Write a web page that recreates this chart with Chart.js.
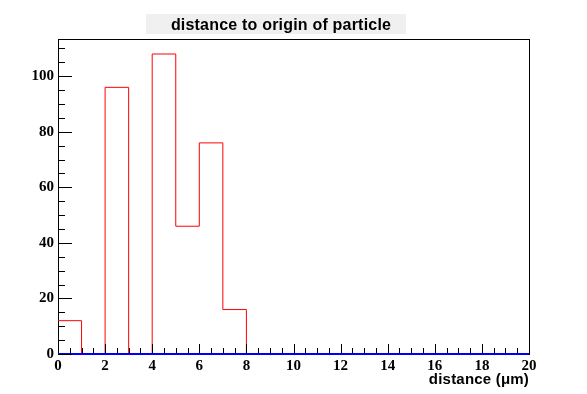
<!DOCTYPE html>
<html>
<head>
<meta charset="utf-8">
<script src="https://cdn.jsdelivr.net/npm/chart.js@4/dist/chart.umd.min.js"></script>
<style>
  body { margin: 0; background: #fff; }
  #wrap { width: 587px; height: 394px; }
</style>
</head>
<body>
<div id="wrap"><canvas id="hist" width="587" height="394"></canvas></div>
<script>
// histogram bins (1 um wide), edges 0..20
const binEdges = [0, 1, 2, 3, 4, 5, 6, 7, 8, 9, 10, 11, 12, 13, 14, 15, 16, 17, 18, 19, 20]
const counts = [12, 0, 96, 0, 108, 46, 76, 16, 0, 0, 0, 0, 0, 0, 0, 0, 0, 0, 0, 0]
const baseline = [0, 0, 0, 0, 0, 0, 0, 0, 0, 0, 0, 0, 0, 0, 0, 0, 0, 0, 0, 0]
const xTickLabels = ['0', '2', '4', '6', '8', '10', '12', '14', '16', '18', '20']
const yTickLabels = ['0', '20', '40', '60', '80', '100']
const titleText = 'distance to origin of particle'
const xTitle = 'distance (\u03bcm)'

// step points: left edge of each bin, plus the last right edge
function stepPoints(vals) {
    let pts = vals.map((v, i) => ({x: binEdges[i], y: v}))
    pts.push({x: binEdges[binEdges.length - 1], y: vals[vals.length - 1]})
    return pts
}

const tickFont = {family: 'Liberation Serif', weight: 'bold', size: 15}

// frame, inward ticks, title box and axis title in ROOT style
const rootFrame = {
    id: 'rootFrame',
    beforeDatasetsDraw(chart) {
        const c = chart.ctx
        const {left, right, top, bottom} = chart.chartArea
        c.save()
        // title box
        c.fillStyle = '#f0f0f0'
        c.fillRect(146, 14, 260, 20)
        c.fillStyle = '#000'
        c.font = 'bold 16px "Liberation Sans"'
        c.letterSpacing = '0.2px'
        c.textAlign = 'center'
        c.textBaseline = 'alphabetic'
        c.fillText(titleText, 281, 30)
        // frame
        c.letterSpacing = '0px'
        c.strokeStyle = '#000'
        c.lineWidth = 1
        c.strokeRect(left + 0.5, top + 0.5, right - left, bottom - top)
        c.restore()
    },
    afterDatasetsDraw(chart) {
        const c = chart.ctx
        const {left, right, top, bottom} = chart.chartArea
        const xs = chart.scales.x, ys = chart.scales.y
        c.save()
        c.strokeStyle = '#000'
        c.lineWidth = 1
        c.beginPath()
        // x ticks: minor every 0.5, major every 2
        for (let v = xs.min; v <= xs.max + 1e-9; v += 0.5) {
            const px = Math.round(xs.getPixelForValue(v)) + 0.5
            const len = Math.abs(v % 2) < 1e-9 ? 9 : 5
            c.moveTo(px, bottom - 1)
            c.lineTo(px, bottom - 1 - len)
        }
        // y ticks: minor every 5, major every 20
        for (let v = 0; v <= ys.max + 1e-9; v += 5) {
            const py = Math.round(ys.getPixelForValue(v)) + 0.5
            const len = v % 20 === 0 ? 14 : 7
            c.moveTo(left, py)
            c.lineTo(left + len, py)
        }
        c.stroke()
        // axis title
        c.fillStyle = '#000'
        c.font = 'bold 15px "Liberation Sans"'
        c.letterSpacing = '0.2px'
        c.textAlign = 'right'
        c.textBaseline = 'alphabetic'
        c.fillText(xTitle, right, 384)
        c.restore()
    }
}

const ctx = document.getElementById('hist').getContext('2d')
const chart = new Chart(ctx, {
    type: 'line',
    data: {
        datasets: [
            {
                label: 'baseline',
                data: stepPoints(baseline),
                stepped: 'before',
                borderColor: '#0000ff',
                borderWidth: 2,
                pointRadius: 0,
                fill: false,
                clip: 4
            },
            {
                label: 'distance',
                data: stepPoints(counts),
                stepped: 'before',
                borderColor: '#ff0000',
                borderWidth: 1,
                pointRadius: 0,
                fill: false,
                clip: 4
            }
        ]
    },
    options: {
        responsive: false,
        animation: false,
        events: [],
        layout: {padding: {top: 39, right: 58, left: 0, bottom: 0}},
        scales: {
            x: {
                type: 'linear',
                min: 0,
                max: 20,
                grid: {display: false, drawTicks: false},
                border: {display: false},
                afterFit: (s) => { s.height = 40 },
                afterBuildTicks: (s) => { s.ticks = xTickLabels.map(t => ({value: Number(t)})) },
                ticks: {
                    font: tickFont,
                    color: '#000',
                    padding: 3,
                    maxRotation: 0,
                    autoSkip: false,
                    callback: (v) => String(v)
                }
            },
            y: {
                type: 'linear',
                min: 0,
                max: 113.4,
                grid: {display: false, drawTicks: false},
                border: {display: false},
                afterFit: (s) => { s.width = 58 },
                afterBuildTicks: (s) => { s.ticks = yTickLabels.map(t => ({value: Number(t)})) },
                ticks: {
                    font: tickFont,
                    color: '#000',
                    padding: 4,
                    callback: (v) => String(v)
                }
            }
        },
        plugins: {
            legend: {display: false},
            tooltip: {enabled: false},
            title: {display: false}
        }
    },
    plugins: [rootFrame]
})
</script>
</body>
</html>
